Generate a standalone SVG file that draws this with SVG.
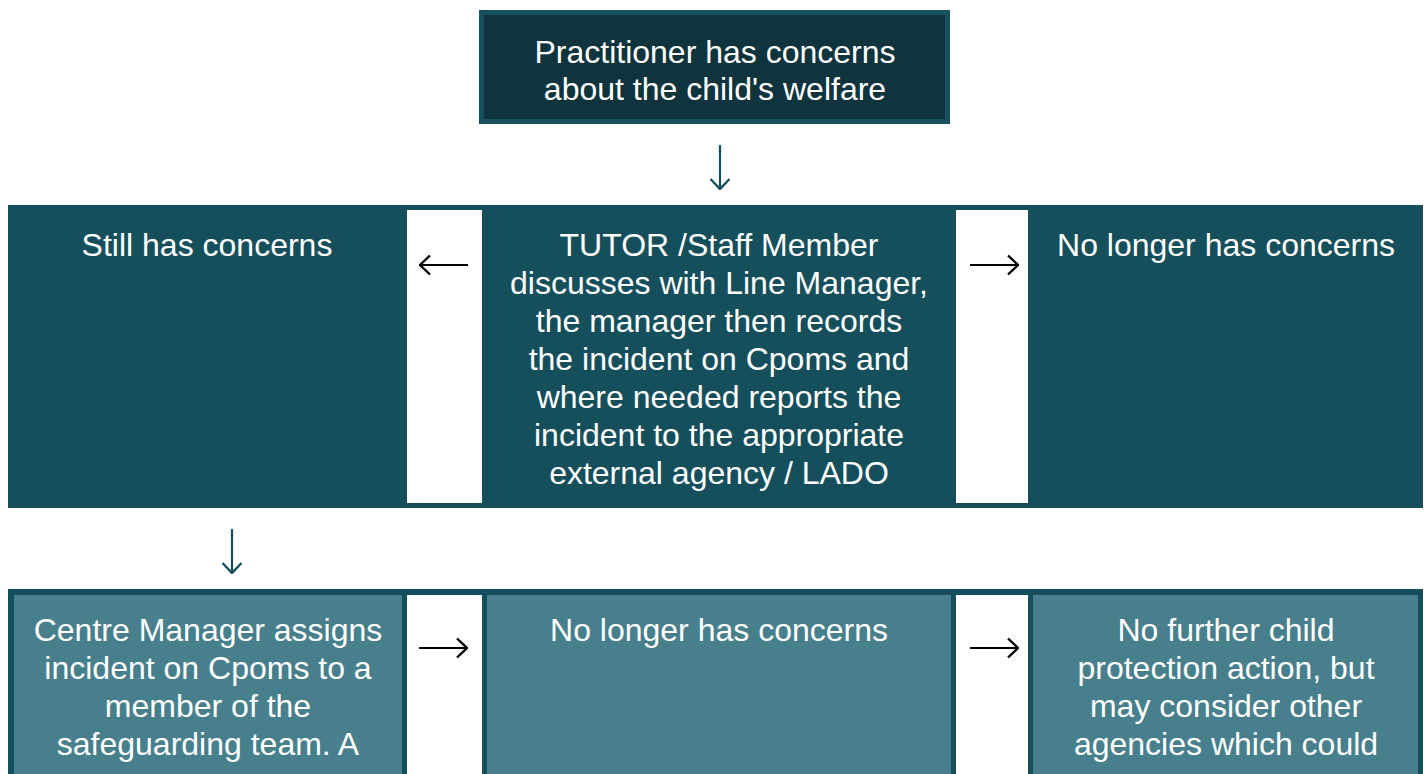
<svg xmlns="http://www.w3.org/2000/svg" width="1427" height="774" viewBox="0 0 1427 774">
<style>
.t{font-family:"Liberation Sans",Arial,sans-serif;font-size:32px;fill:#ffffff;text-anchor:middle}
.dk{fill:#0F343D}
.mid{fill:#164F5C}
.lt{fill:#47808C}
.wh{fill:#ffffff}
.con{fill:none;stroke-width:2.2}
</style>
<defs>
<marker id="ah-teal" markerUnits="userSpaceOnUse" viewBox="0 0 12 22" refX="11" refY="11" markerWidth="12" markerHeight="22" orient="auto">
<path d="M1,1.5 L11,11 L1,20.5" fill="none" stroke="#164F5C" stroke-width="2.4"/>
</marker>
<marker id="ah-black" markerUnits="userSpaceOnUse" viewBox="0 0 12 22" refX="11" refY="11" markerWidth="12" markerHeight="22" orient="auto">
<path d="M1,1.5 L11,11 L1,20.5" fill="none" stroke="#000000" stroke-width="2.4"/>
</marker>
</defs>
<rect width="1427" height="774" fill="#ffffff"/>

<!-- table frames -->
<g id="frames">
<rect x="8" y="205" width="1415" height="303" class="mid"/>
<rect x="407" y="210" width="75" height="293" class="wh"/>
<rect x="956" y="210" width="72" height="293" class="wh"/>
<rect x="8" y="589" width="1415" height="190" class="mid"/>
<rect x="407" y="595" width="75" height="184" class="wh"/>
<rect x="956" y="595" width="72" height="184" class="wh"/>
</g>

<g id="n-top">
<rect x="479" y="10" width="471" height="114" fill="#17515E"/>
<rect x="484" y="15" width="461" height="104" class="dk"/>
<text class="t" x="715" y="63">Practitioner has concerns</text>
<text class="t" x="715" y="100">about the child's welfare</text>
</g>

<g id="n-still">
<rect x="8" y="205" width="399" height="303" class="mid"/>
<text class="t" x="207" y="256">Still has concerns</text>
</g>

<g id="n-tutor">
<rect x="482" y="205" width="474" height="303" class="mid"/>
<text class="t" x="719" y="256">TUTOR /Staff Member</text>
<text class="t" x="719" y="294">discusses with Line Manager,</text>
<text class="t" x="719" y="332">the manager then records</text>
<text class="t" x="719" y="370">the incident on Cpoms and</text>
<text class="t" x="719" y="408">where needed reports the</text>
<text class="t" x="719" y="446">incident to the appropriate</text>
<text class="t" x="719" y="484">external agency / LADO</text>
</g>

<g id="n-nolonger1">
<rect x="1028" y="205" width="395" height="303" class="mid"/>
<text class="t" x="1226" y="256">No longer has concerns</text>
</g>

<g id="n-centre">
<rect x="14" y="595" width="388" height="184" class="lt"/>
<text class="t" x="208" y="641">Centre Manager assigns</text>
<text class="t" x="208" y="679">incident on Cpoms to a</text>
<text class="t" x="208" y="717">member of the</text>
<text class="t" x="208" y="755">safeguarding team. A</text>
</g>

<g id="n-nolonger2">
<rect x="487" y="595" width="464" height="184" class="lt"/>
<text class="t" x="719" y="641">No longer has concerns</text>
</g>

<g id="n-nofurther">
<rect x="1033" y="595" width="385" height="184" class="lt"/>
<text class="t" x="1226" y="641">No further child</text>
<text class="t" x="1226" y="679">protection action, but</text>
<text class="t" x="1226" y="717">may consider other</text>
<text class="t" x="1226" y="755">agencies which could</text>
</g>

<g id="connectors">
<path class="con" d="M720,145 L720,189" stroke="#164F5C" marker-end="url(#ah-teal)"/>
<path class="con" d="M468,265 L420,265" stroke="#000000" marker-end="url(#ah-black)"/>
<path class="con" d="M970,265 L1018,265" stroke="#000000" marker-end="url(#ah-black)"/>
<path class="con" d="M232,529 L232,573" stroke="#164F5C" marker-end="url(#ah-teal)"/>
<path class="con" d="M419,648 L467,648" stroke="#000000" marker-end="url(#ah-black)"/>
<path class="con" d="M970,648 L1018,648" stroke="#000000" marker-end="url(#ah-black)"/>
</g>
</svg>
